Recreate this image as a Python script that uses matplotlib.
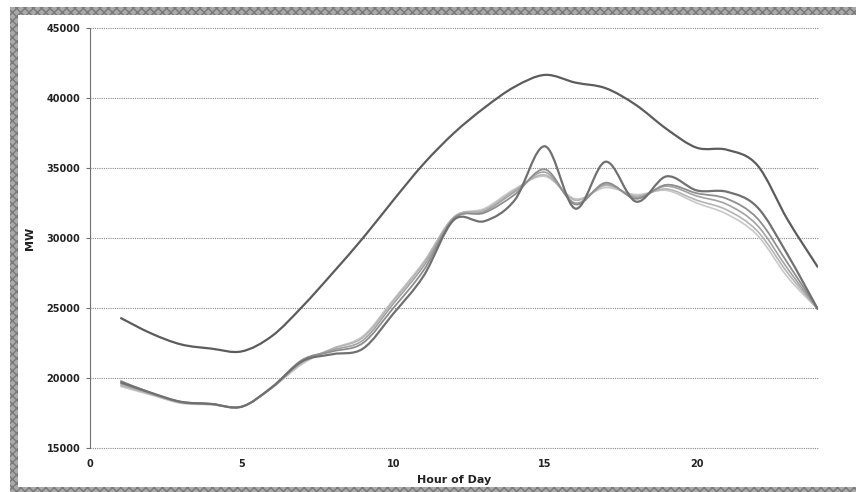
import numpy as np
import matplotlib
matplotlib.use('Agg')
import matplotlib.pyplot as plt
from matplotlib.path import Path
from matplotlib.patches import PathPatch, Rectangle

hours = list(range(1, 25))

# peak day (top curve)
peak = [24300, 23200, 22400, 22100, 21900, 23000, 25100, 27500, 30000, 32700, 35300, 37500,
        39300, 40800, 41650, 41100, 40700, 39500, 37800, 36450, 36300, 35200, 31300, 27900]

# lower group of days
day_a = [19700, 18950, 18300, 18150, 17950, 19350, 21200, 21700, 22100, 24600, 27300, 31300,
         31200, 32700, 36550, 32100, 35450, 32600, 34400, 33400, 33300, 32200, 28800, 24900]
day_b = [19800, 18950, 18300, 18150, 17950, 19350, 21300, 21900, 22500, 25000, 27700, 31400,
         31800, 33100, 34900, 32400, 33950, 32800, 33800, 33200, 32800, 31400, 28200, 24900]
day_c = [19600, 18900, 18250, 18150, 17950, 19300, 21200, 22000, 22700, 25300, 28000, 31400,
         31900, 33300, 34700, 32500, 33850, 32900, 33700, 33000, 32400, 30900, 27800, 24900]
day_d = [19500, 18850, 18250, 18100, 17950, 19300, 21100, 22100, 22900, 25500, 28200, 31500,
         32000, 33400, 34500, 32700, 33750, 33000, 33500, 32700, 32000, 30500, 27500, 24900]
day_e = [19400, 18800, 18200, 18100, 17950, 19300, 21000, 22100, 23000, 25600, 28300, 31500,
         32100, 33500, 34400, 32800, 33600, 33100, 33400, 32500, 31700, 30200, 27200, 24900]

series = [(day_e, '#c8c8c8', 1.2), (day_d, '#b4b4b4', 1.2), (day_c, '#a2a2a2', 1.2),
          (day_b, '#8e8e8e', 1.3), (day_a, '#707070', 1.6), (peak, '#5c5c5c', 1.6)]


def smooth_path(x, y):
    # Excel-style smoothed line: Bezier segments through the points
    p = np.column_stack([x, y]).astype(float)
    ext = np.vstack([p[0], p, p[-1]])
    verts = [p[0]]
    codes = [Path.MOVETO]
    for i in range(len(p) - 1):
        p0, p1, p2, p3 = ext[i], ext[i + 1], ext[i + 2], ext[i + 3]
        c1 = p1 + (p2 - p0) / 6.0
        c2 = p2 - (p3 - p1) / 6.0
        verts += [c1, c2, p2]
        codes += [Path.CURVE4] * 3
    return Path(verts, codes)


fig = plt.figure(figsize=(8.56, 4.92), dpi=100)
fig.patch.set_facecolor('white')

# grey dithered frame like the screenshot
frame = dict(facecolor='#a9a9a9', edgecolor='#7a7a7a', hatch='xxxx', linewidth=0,
             transform=fig.transFigure, zorder=-5)
fig.patches.append(Rectangle((10 / 856, 0), 8 / 856, 485 / 492, **frame))
fig.patches.append(Rectangle((10 / 856, 1 - 15 / 492), 846 / 856, 8 / 492, **frame))
fig.patches.append(Rectangle((10 / 856, 0), 846 / 856, 5 / 492, **frame))

ax = fig.add_axes([90 / 856, 44 / 492, 728 / 856, 420 / 492])

for vals, col, lw in series:
    ax.add_patch(PathPatch(smooth_path(hours, vals), fill=False, edgecolor=col,
                           linewidth=lw, zorder=3))

ax.set_xlim(0, 24)
ax.set_ylim(15000, 45000)
ax.set_xticks([0, 5, 10, 15, 20])
ax.set_yticks(range(15000, 45001, 5000))

ax.yaxis.grid(True, linestyle=(0, (1, 1)), color='#8a8a8a', linewidth=0.8)
ax.xaxis.grid(False)
ax.set_axisbelow(True)
for gl in ax.get_ygridlines():
    gl.set_clip_on(False)

for s in ['top', 'right', 'bottom']:
    ax.spines[s].set_visible(False)
ax.spines['left'].set_linestyle((0, (1, 1)))
ax.spines['left'].set_color('#707070')
ax.spines['left'].set_linewidth(0.8)

ax.tick_params(axis='y', length=3, color='#707070', labelsize=7, pad=4)
ax.tick_params(axis='x', length=0, labelsize=7, pad=8)
for lab in ax.get_xticklabels() + ax.get_yticklabels():
    lab.set_fontweight('bold')
    lab.set_color('#222222')

ax.set_xlabel('Hour of Day', fontsize=8, fontweight='bold', color='#222222', labelpad=4)
ax.set_ylabel('MW', fontsize=8, fontweight='bold', color='#222222', labelpad=0)
ax.yaxis.set_label_coords(-55 / 728, 0.5)

fig.savefig('out.png', dpi=100)
